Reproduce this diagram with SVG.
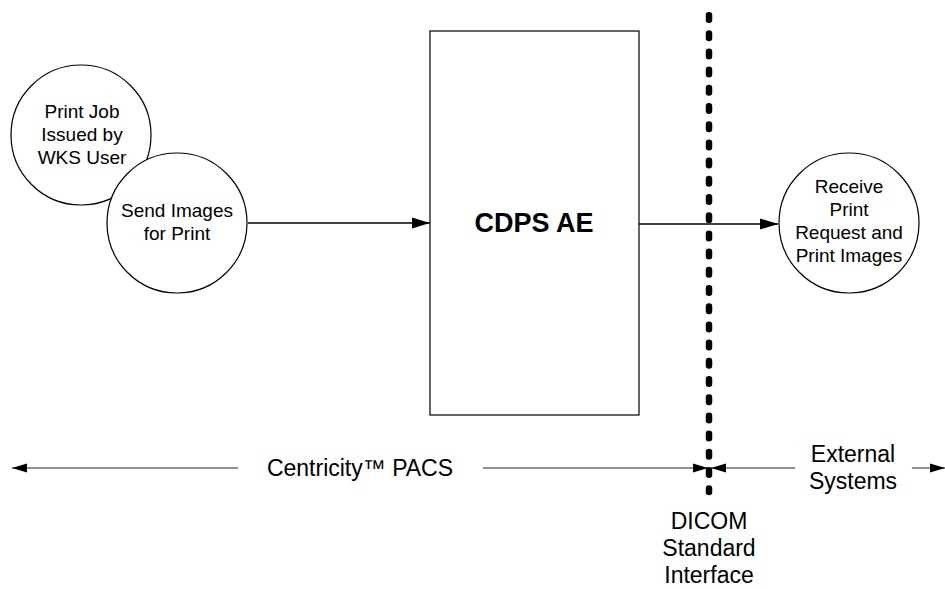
<svg xmlns="http://www.w3.org/2000/svg" width="945" height="589" viewBox="0 0 945 589">
<style>
.node{fill:#fff;stroke:#000;stroke-width:1.2}
.t{font-family:"Liberation Sans",Arial,sans-serif;font-size:19px;fill:#000;text-anchor:middle}
.b{font-family:"Liberation Sans",Arial,sans-serif;font-size:23px;fill:#000;text-anchor:middle}
.big{font-family:"Liberation Sans",Arial,sans-serif;font-size:27px;font-weight:bold;fill:#000;text-anchor:middle}
.c{stroke:#000;stroke-width:1.3;fill:none}
.s{stroke:#222;stroke-width:1.2;fill:none}
</style>
<defs>
<marker id="ah" markerUnits="userSpaceOnUse" markerWidth="18" markerHeight="12" refX="18" refY="6" orient="auto">
<path d="M0,0.5 L18,6 L0,11.5 Z" fill="#000"/>
</marker>
<marker id="sh" markerUnits="userSpaceOnUse" markerWidth="15" markerHeight="10" refX="15" refY="5" orient="auto">
<path d="M0,0.5 L15,5 L0,9.5 Z" fill="#000"/>
</marker>
</defs>
<g id="c1">
<circle class="node" cx="81" cy="135" r="70"/>
<text class="t" x="82" y="118">Print Job</text>
<text class="t" x="82" y="141">Issued by</text>
<text class="t" x="82" y="164">WKS User</text>
</g>
<g id="c2">
<circle class="node" cx="177" cy="223" r="70"/>
<text class="t" x="177" y="217">Send Images</text>
<text class="t" x="177" y="240">for Print</text>
</g>
<g id="cdps">
<rect class="node" x="430" y="31" width="209" height="384"/>
<text class="big" x="534" y="232">CDPS AE</text>
</g>
<g id="c3">
<circle class="node" cx="849" cy="223" r="70"/>
<text class="t" x="849" y="193">Receive</text>
<text class="t" x="849" y="216">Print</text>
<text class="t" x="849" y="239">Request and</text>
<text class="t" x="849" y="262">Print Images</text>
</g>
<g id="connectors">
<line class="c" x1="248" y1="223" x2="430" y2="223" marker-end="url(#ah)"/>
<line class="c" x1="639" y1="224" x2="778" y2="224" marker-end="url(#ah)"/>
<line class="s" x1="238" y1="468" x2="12" y2="468" marker-end="url(#sh)"/>
<line class="s" x1="483" y1="468" x2="708" y2="468" marker-end="url(#sh)"/>
<line class="s" x1="795" y1="468" x2="711" y2="468" marker-end="url(#sh)"/>
<line class="s" x1="912" y1="468" x2="945" y2="468" marker-end="url(#sh)"/>
</g>
<g id="boundary">
<line x1="709" y1="15.25" x2="709" y2="492" stroke="#000" stroke-width="6.5" stroke-linecap="round" stroke-dasharray="4.5 13.7"/>
</g>
<g id="labels">
<text class="b" x="360" y="476">Centricity™ PACS</text>
<text class="b" x="853" y="462">External</text>
<text class="b" x="853" y="489">Systems</text>
<text class="b" x="709" y="529">DICOM</text>
<text class="b" x="709" y="556">Standard</text>
<text class="b" x="709" y="583">Interface</text>
</g>
</svg>
